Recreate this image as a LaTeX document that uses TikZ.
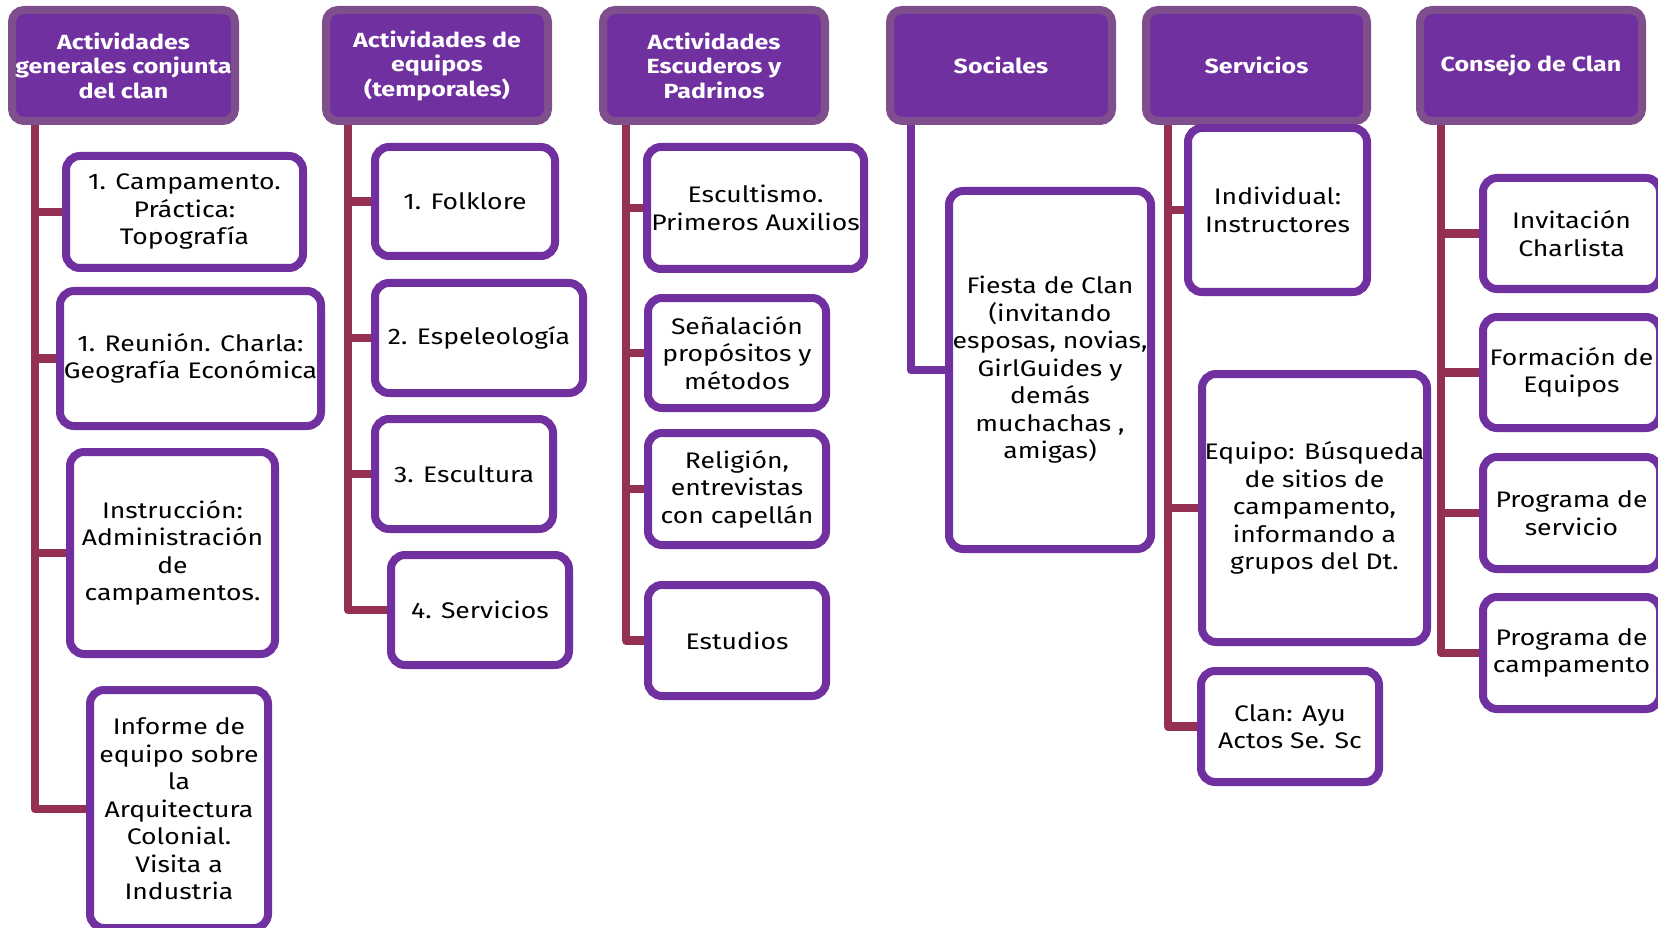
\documentclass[tikz,border=0pt]{standalone}
\usepackage{fontspec}
\setmainfont{Fira Sans}[FakeStretch=1.18]
\newfontfamily\hdrfont{Fira Sans}[FakeStretch=1.22]
\usetikzlibrary{backgrounds}
\definecolor{hdrfill}{HTML}{7030A0}
\definecolor{hdrline}{HTML}{7F4E8C}
\definecolor{boxline}{HTML}{7030A0}
\definecolor{connc}{HTML}{943053}
\tikzset{
 hdr/.style={draw=hdrline, fill=hdrfill, line width=8pt, rounded corners=12pt, inner sep=0pt, text=white, font=\hdrfont\fontsize{20.5}{24.5}\selectfont\bfseries, align=center},
 cbox/.style={draw=boxline, fill=white, line width=8pt, rounded corners=14pt, inner sep=0pt, font=\fontsize{22.5}{27.5}\selectfont, align=center},
 trunk/.style={draw=connc, line width=8.5pt, line join=round},
 ptrunk/.style={trunk, draw=boxline}
}
\newcommand\bx[7][cbox]{\node[#1, minimum width={#4-#2-8}, minimum height={#5-#3-8}] (#6) at ({(#2+#4)/2},{(#3+#5)/2}) {#7};}
\begin{document}
\begin{tikzpicture}[x=1pt,y=-1pt]
\useasboundingbox (0,0) rectangle (1658,928);
% headers
\bx[hdr]{8}{6}{239}{125}{h1}{Actividades\\generales conjunta\\del clan}
\bx[hdr]{322}{6}{552}{125}{h2}{Actividades de\\equipos\\(temporales)}
\bx[hdr]{599}{6}{829}{125}{h3}{Actividades\\Escuderos y\\Padrinos}
\bx[hdr]{886}{6}{1116}{125}{h4}{Sociales}
\bx[hdr]{1142}{6}{1371}{125}{h5}{Servicios}
\bx[hdr]{1416}{6}{1646}{125}{h6}{Consejo de Clan}
% column 1
\bx{62}{152}{307}{272}{a1}{1. Campamento.\\Práctica:\\Topografía}
\bx{56}{287}{325}{430}{b1}{1. Reunión. Charla:\\Geografía Económica}
\bx{66}{448}{279}{658}{c1}{Instrucción:\\Administración\\de\\campamentos.}
\bx{86}{686}{272}{932}{d1}{Informe de\\equipo sobre\\la\\Arquitectura\\Colonial.\\Visita a\\Industria}
% column 2
\bx{371}{143}{559}{260}{a2}{1. Folklore}
\bx{371}{279}{587}{397}{b2}{2. Espeleología}
\bx{371}{415}{557}{533}{c2}{3. Escultura}
\bx{387}{551}{573}{669}{d2}{4. Servicios}
% column 3
\bx{643}{143}{868}{273}{a3}{Escultismo.\\Primeros Auxilios}
\bx{644}{294}{830}{412}{b3}{Señalación\\propósitos y\\métodos}
\bx{644}{429}{830}{549}{c3}{Religión,\\entrevistas\\con capellán}
\bx{644}{581}{830}{700}{d3}{Estudios}
% column 4
\bx{945}{187}{1155}{553}{a4}{Fiesta de Clan\\(invitando\\esposas, novias,\\GirlGuides y\\demás\\muchachas ,\\amigas)}
% column 5
\bx{1184}{124}{1371}{296}{a5}{Individual:\\Instructores}
\bx{1198}{370}{1431}{646}{b5}{Equipo: Búsqueda\\de sitios de\\campamento,\\informando a\\grupos del Dt.}
\bx{1197}{667}{1383}{786}{c5}{Clan: Ayu\\Actos Se. Sc}
% column 6
\bx{1479}{174}{1664}{293}{a6}{Invitación\\Charlista}
\bx{1479}{313}{1664}{432}{b6}{Formación de\\Equipos}
\bx{1479}{453}{1664}{573}{c6}{Programa de\\servicio}
\bx{1479}{593}{1664}{713}{d6}{Programa de\\campamento}
\begin{scope}[on background layer]
\coordinate (t1) at ([xshift=27pt]h1.south west);
\coordinate (t2) at ([xshift=26pt]h2.south west);
\coordinate (t3) at ([xshift=27pt]h3.south west);
\coordinate (t4) at ([xshift=25pt]h4.south west);
\coordinate (t5) at ([xshift=26pt]h5.south west);
\coordinate (t6) at ([xshift=25pt]h6.south west);
\foreach \b in {a1,b1,c1,d1}{\draw[trunk] (t1) |- (\b.west);}
\foreach \b in {a2,b2,c2,d2}{\draw[trunk] (t2) |- (\b.west);}
\foreach \b in {a3,b3,c3,d3}{\draw[trunk] (t3) |- (\b.west);}
\draw[ptrunk] (t4) |- (a4.west);
\foreach \b in {a5,b5,c5}{\draw[trunk] (t5) |- (\b.west);}
\foreach \b in {a6,b6,c6,d6}{\draw[trunk] (t6) |- (\b.west);}
\end{scope}
\end{tikzpicture}
\end{document}
